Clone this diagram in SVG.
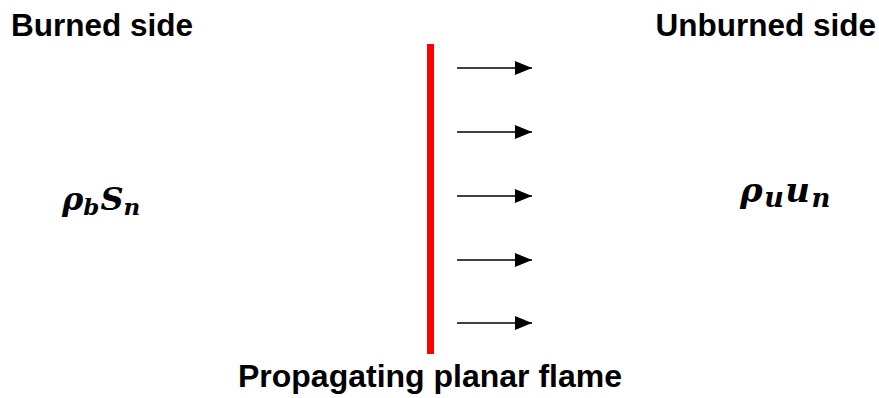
<svg xmlns="http://www.w3.org/2000/svg" width="879" height="398" viewBox="0 0 879 398">
<style>
.lbl{font-family:"Liberation Sans",Arial,sans-serif;font-weight:bold;font-size:31.5px;fill:#000}
.math{font-family:"DejaVu Serif","Liberation Serif",serif;font-weight:bold;font-style:italic;font-size:32px;fill:#000}
.sub{font-size:23px}
.arr{stroke:#000;stroke-width:1.5;fill:none;marker-end:url(#ah)}
</style>
<defs>
<marker id="ah" markerWidth="18" markerHeight="14" refX="17" refY="7" orient="auto" markerUnits="userSpaceOnUse">
<path d="M0,0 L17,7 L0,14 Z" fill="#000"/>
</marker>
</defs>
<rect width="879" height="398" fill="#fff"/>
<g id="burned-label"><text class="lbl" x="11" y="36">Burned side</text></g>
<g id="unburned-label"><text class="lbl" x="876" y="36" text-anchor="end">Unburned side</text></g>
<g id="flame">
<rect x="427" y="44" width="7" height="310" fill="#ff0000"/>
<text class="lbl" x="430" y="387" text-anchor="middle" style="font-size:32px">Propagating planar flame</text>
</g>
<g id="burned-flux"><text class="math" x="62" y="210">ρ<tspan class="sub" dy="5">b</tspan><tspan dy="-5" dx="1">S</tspan><tspan class="sub" dy="5">n</tspan></text></g>
<g id="unburned-flux"><text class="math" x="740" y="202" style="font-size:34px" letter-spacing="1.5">ρ<tspan class="sub" dy="5" style="font-size:27px">u</tspan><tspan dy="-5">u</tspan><tspan class="sub" dy="5" style="font-size:26px">n</tspan></text></g>
<g id="connectors">
<line class="arr" x1="457" y1="68" x2="532" y2="68"/>
<line class="arr" x1="457" y1="132" x2="532" y2="132"/>
<line class="arr" x1="457" y1="196" x2="532" y2="196"/>
<line class="arr" x1="457" y1="260" x2="532" y2="260"/>
<line class="arr" x1="457" y1="323" x2="532" y2="323"/>
</g>
</svg>
